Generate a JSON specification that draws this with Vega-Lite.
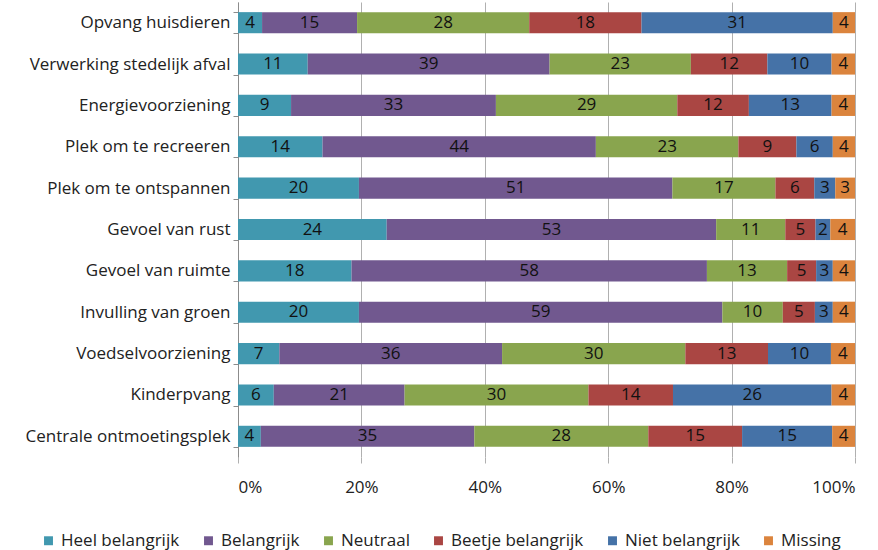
{
  "$schema": "https://vega.github.io/schema/vega-lite/v6.json",
  "autosize": {"type": "none"},
  "width": 617,
  "height": 455,
  "padding": {"left": 238, "top": 2, "right": 23, "bottom": 93},
  "background": "white",
  "config": {
    "font": "Open Sans",
    "view": {"stroke": null}
  },
  "data": {
    "values": [
      {"item": "Opvang huisdieren", "cat": "Heel belangrijk", "k": 1, "value": 3.9},
      {"item": "Opvang huisdieren", "cat": "Belangrijk", "k": 2, "value": 15.4},
      {"item": "Opvang huisdieren", "cat": "Neutraal", "k": 3, "value": 27.9},
      {"item": "Opvang huisdieren", "cat": "Beetje belangrijk", "k": 4, "value": 18.2},
      {"item": "Opvang huisdieren", "cat": "Niet belangrijk", "k": 5, "value": 31.0},
      {"item": "Opvang huisdieren", "cat": "Missing", "k": 6, "value": 3.6},
      {"item": "Verwerking stedelijk afval", "cat": "Heel belangrijk", "k": 1, "value": 11.3},
      {"item": "Verwerking stedelijk afval", "cat": "Belangrijk", "k": 2, "value": 39.2},
      {"item": "Verwerking stedelijk afval", "cat": "Neutraal", "k": 3, "value": 22.9},
      {"item": "Verwerking stedelijk afval", "cat": "Beetje belangrijk", "k": 4, "value": 12.4},
      {"item": "Verwerking stedelijk afval", "cat": "Niet belangrijk", "k": 5, "value": 10.4},
      {"item": "Verwerking stedelijk afval", "cat": "Missing", "k": 6, "value": 3.8},
      {"item": "Energievoorziening", "cat": "Heel belangrijk", "k": 1, "value": 8.6},
      {"item": "Energievoorziening", "cat": "Belangrijk", "k": 2, "value": 33.2},
      {"item": "Energievoorziening", "cat": "Neutraal", "k": 3, "value": 29.4},
      {"item": "Energievoorziening", "cat": "Beetje belangrijk", "k": 4, "value": 11.6},
      {"item": "Energievoorziening", "cat": "Niet belangrijk", "k": 5, "value": 13.4},
      {"item": "Energievoorziening", "cat": "Missing", "k": 6, "value": 3.8},
      {"item": "Plek om te recreeren", "cat": "Heel belangrijk", "k": 1, "value": 13.7},
      {"item": "Plek om te recreeren", "cat": "Belangrijk", "k": 2, "value": 44.3},
      {"item": "Plek om te recreeren", "cat": "Neutraal", "k": 3, "value": 23.1},
      {"item": "Plek om te recreeren", "cat": "Beetje belangrijk", "k": 4, "value": 9.4},
      {"item": "Plek om te recreeren", "cat": "Niet belangrijk", "k": 5, "value": 5.9},
      {"item": "Plek om te recreeren", "cat": "Missing", "k": 6, "value": 3.6},
      {"item": "Plek om te ontspannen", "cat": "Heel belangrijk", "k": 1, "value": 19.6},
      {"item": "Plek om te ontspannen", "cat": "Belangrijk", "k": 2, "value": 50.8},
      {"item": "Plek om te ontspannen", "cat": "Neutraal", "k": 3, "value": 16.7},
      {"item": "Plek om te ontspannen", "cat": "Beetje belangrijk", "k": 4, "value": 6.3},
      {"item": "Plek om te ontspannen", "cat": "Niet belangrijk", "k": 5, "value": 3.4},
      {"item": "Plek om te ontspannen", "cat": "Missing", "k": 6, "value": 3.2},
      {"item": "Gevoel van rust", "cat": "Heel belangrijk", "k": 1, "value": 24.1},
      {"item": "Gevoel van rust", "cat": "Belangrijk", "k": 2, "value": 53.4},
      {"item": "Gevoel van rust", "cat": "Neutraal", "k": 3, "value": 11.2},
      {"item": "Gevoel van rust", "cat": "Beetje belangrijk", "k": 4, "value": 4.9},
      {"item": "Gevoel van rust", "cat": "Niet belangrijk", "k": 5, "value": 2.4},
      {"item": "Gevoel van rust", "cat": "Missing", "k": 6, "value": 4.0},
      {"item": "Gevoel van ruimte", "cat": "Heel belangrijk", "k": 1, "value": 18.4},
      {"item": "Gevoel van ruimte", "cat": "Belangrijk", "k": 2, "value": 57.6},
      {"item": "Gevoel van ruimte", "cat": "Neutraal", "k": 3, "value": 13.0},
      {"item": "Gevoel van ruimte", "cat": "Beetje belangrijk", "k": 4, "value": 4.7},
      {"item": "Gevoel van ruimte", "cat": "Niet belangrijk", "k": 5, "value": 2.7},
      {"item": "Gevoel van ruimte", "cat": "Missing", "k": 6, "value": 3.6},
      {"item": "Invulling van groen", "cat": "Heel belangrijk", "k": 1, "value": 19.6},
      {"item": "Invulling van groen", "cat": "Belangrijk", "k": 2, "value": 58.9},
      {"item": "Invulling van groen", "cat": "Neutraal", "k": 3, "value": 9.8},
      {"item": "Invulling van groen", "cat": "Beetje belangrijk", "k": 4, "value": 5.2},
      {"item": "Invulling van groen", "cat": "Niet belangrijk", "k": 5, "value": 2.9},
      {"item": "Invulling van groen", "cat": "Missing", "k": 6, "value": 3.6},
      {"item": "Voedselvoorziening", "cat": "Heel belangrijk", "k": 1, "value": 6.7},
      {"item": "Voedselvoorziening", "cat": "Belangrijk", "k": 2, "value": 36.1},
      {"item": "Voedselvoorziening", "cat": "Neutraal", "k": 3, "value": 29.7},
      {"item": "Voedselvoorziening", "cat": "Beetje belangrijk", "k": 4, "value": 13.4},
      {"item": "Voedselvoorziening", "cat": "Niet belangrijk", "k": 5, "value": 10.2},
      {"item": "Voedselvoorziening", "cat": "Missing", "k": 6, "value": 3.9},
      {"item": "Kinderpvang", "cat": "Heel belangrijk", "k": 1, "value": 5.8},
      {"item": "Kinderpvang", "cat": "Belangrijk", "k": 2, "value": 21.2},
      {"item": "Kinderpvang", "cat": "Neutraal", "k": 3, "value": 29.8},
      {"item": "Kinderpvang", "cat": "Beetje belangrijk", "k": 4, "value": 13.7},
      {"item": "Kinderpvang", "cat": "Niet belangrijk", "k": 5, "value": 25.7},
      {"item": "Kinderpvang", "cat": "Missing", "k": 6, "value": 3.8},
      {"item": "Centrale ontmoetingsplek", "cat": "Heel belangrijk", "k": 1, "value": 3.7},
      {"item": "Centrale ontmoetingsplek", "cat": "Belangrijk", "k": 2, "value": 34.6},
      {"item": "Centrale ontmoetingsplek", "cat": "Neutraal", "k": 3, "value": 28.2},
      {"item": "Centrale ontmoetingsplek", "cat": "Beetje belangrijk", "k": 4, "value": 15.2},
      {"item": "Centrale ontmoetingsplek", "cat": "Niet belangrijk", "k": 5, "value": 14.6},
      {"item": "Centrale ontmoetingsplek", "cat": "Missing", "k": 6, "value": 3.7}
    ]
  },
  "encoding": {
    "y": {
      "field": "item",
      "type": "nominal",
      "sort": ["Opvang huisdieren", "Verwerking stedelijk afval", "Energievoorziening", "Plek om te recreeren", "Plek om te ontspannen", "Gevoel van rust", "Gevoel van ruimte", "Invulling van groen", "Voedselvoorziening", "Kinderpvang", "Centrale ontmoetingsplek"],
      "scale": {"paddingInner": 0.49, "paddingOuter": 0.245},
      "axis": {
        "title": null,
        "labelFontSize": 17,
        "labelColor": "#222222",
        "labelPadding": 3,
        "labelLimit": 0,
        "tickBand": "extent",
        "tickSize": 5,
        "tickColor": "#8c8c8c",
        "domainColor": "#8c8c8c",
        "grid": false
      }
    },
    "x": {
      "field": "value",
      "type": "quantitative",
      "stack": "normalize",
      "scale": {"domain": [0, 1], "nice": false},
      "axis": {
        "title": null,
        "values": [0, 0.2, 0.4, 0.6, 0.8, 1],
        "format": "%",
        "labelFontSize": 17,
        "labelColor": "#222222",
        "labelPadding": 16,
        "domain": false,
        "ticks": true,
        "tickSize": 6,
        "tickColor": "#b0b0b0",
        "grid": true,
        "gridColor": "#b0b0b0",
        "gridWidth": 1
      }
    },
    "order": {"field": "k", "type": "quantitative"}
  },
  "layer": [
    {
      "mark": {"type": "bar"},
      "encoding": {
        "color": {
          "field": "cat",
          "type": "nominal",
          "scale": {
            "domain": ["Heel belangrijk", "Belangrijk", "Neutraal", "Beetje belangrijk", "Niet belangrijk", "Missing"],
            "range": ["#4198AF", "#71588F", "#89A54E", "#AA4643", "#4572A7", "#DB843D"]
          },
          "legend": {
            "title": null,
            "orient": "none",
            "direction": "horizontal",
            "legendX": -198,
            "legendY": 530,
            "symbolType": "square",
            "symbolSize": 80,
            "symbolStrokeWidth": 0,
            "labelFontSize": 17,
            "labelColor": "#222222",
            "labelOffset": 4,
            "labelLimit": 0,
            "columnPadding": 20
          }
        }
      }
    },
    {
      "mark": {"type": "text", "fontSize": 17, "color": "#111111", "baseline": "middle"},
      "encoding": {
        "x": {"field": "value", "type": "quantitative", "stack": "normalize", "bandPosition": 0.5},
        "text": {"field": "value", "type": "quantitative", "format": ".0f"}
      }
    }
  ]
}
